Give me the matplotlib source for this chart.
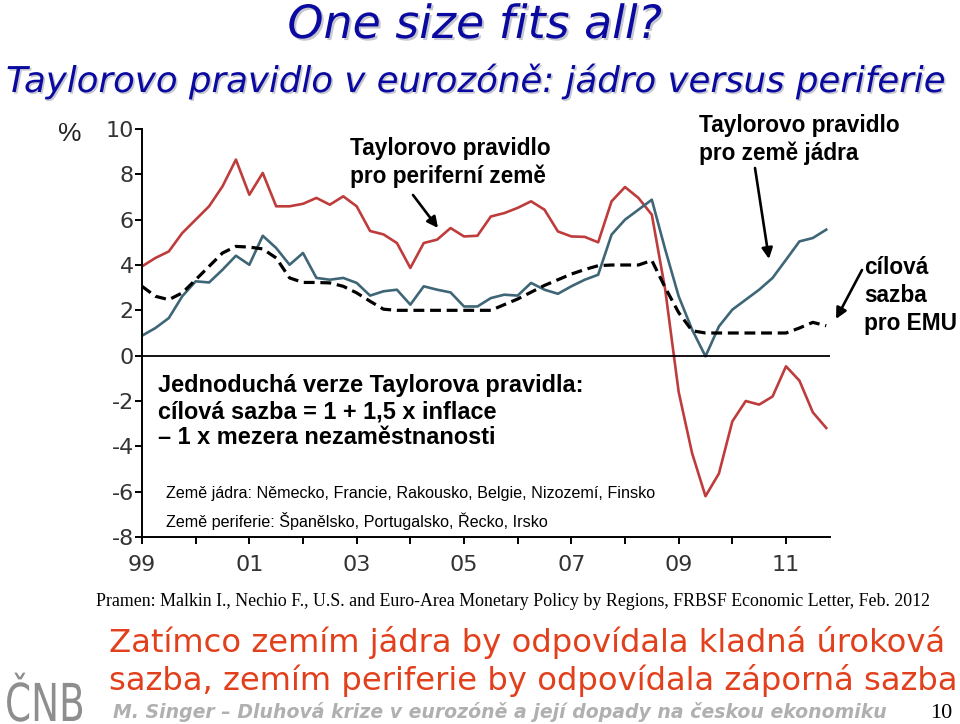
import matplotlib
matplotlib.use("Agg")
import numpy as np
import pandas as pd
import matplotlib.pyplot as plt
from matplotlib import patheffects as pe
from matplotlib.textpath import TextPath
from matplotlib.patches import PathPatch
from matplotlib.font_manager import FontProperties
from matplotlib.transforms import Affine2D

plt.rcParams["axes.unicode_minus"] = False

# quarterly data 1999Q1 - 2011Q4 (%)
quarters = pd.period_range("1999Q1", "2011Q4", freq="Q")
t = np.array([q.year + (q.quarter - 1) / 4 for q in quarters])

periphery = [3.94, 4.31, 4.60, 5.41, 6.00, 6.59, 7.47, 8.65,
             7.10, 8.06, 6.59, 6.59, 6.70, 6.96, 6.66, 7.03,
             6.59, 5.50, 5.35, 4.97, 3.87, 4.97, 5.12, 5.63,
             5.26, 5.29, 6.14, 6.29, 6.52, 6.81, 6.44, 5.48,
             5.26, 5.24, 5.00, 6.81, 7.44, 6.96, 6.22, 2.90,
             -1.60, -4.30, -6.20, -5.20, -2.90, -2.00, -2.16, -1.80,
             -0.47, -1.10, -2.50, -3.19]

core = [0.88, 1.22, 1.66, 2.62, 3.28, 3.23, 3.79, 4.41,
        4.01, 5.29, 4.75, 4.01, 4.53, 3.43, 3.35, 3.43,
        3.21, 2.65, 2.84, 2.91, 2.25, 3.06, 2.91, 2.79,
        2.17, 2.17, 2.54, 2.69, 2.65, 3.21, 2.91, 2.73,
        3.06, 3.35, 3.57, 5.34, 6.00, 6.44, 6.88, 4.68,
        2.62, 1.15, -0.03, 1.29, 2.03, 2.47, 2.91, 3.43,
        4.23, 5.04, 5.19, 5.56]

emu = [3.06, 2.62, 2.47, 2.77, 3.35, 3.94, 4.53, 4.82,
       4.79, 4.71, 4.31, 3.43, 3.23, 3.23, 3.21, 3.06,
       2.77, 2.40, 2.05, 2.00, 2.00, 2.00, 2.00, 2.00,
       2.00, 2.00, 2.00, 2.25, 2.50, 2.80, 3.10, 3.35,
       3.60, 3.80, 3.97, 4.00, 4.00, 4.00, 4.20, 3.00,
       1.90, 1.10, 1.00, 1.00, 1.00, 1.00, 1.00, 1.00,
       1.00, 1.22, 1.47, 1.32]

yticks = list(range(-8, 11, 2))
xmajor = list(range(1999, 2012))
xlabels = ["99", "", "01", "", "03", "", "05", "", "07", "", "09", "", "11"]

W, H = 960, 724
fig = plt.figure(figsize=(W / 100, H / 100), dpi=100)
fig.patch.set_facecolor("white")


def px(x, y):
    return x / W, 1 - y / H


ax = fig.add_axes([142 / W, 1 - 537 / H, (830 - 142) / W, (537 - 129) / H])
ax.plot(t, periphery, color="#be3c3c", lw=1.9)
ax.plot(t, core, color="#3f6677", lw=1.9)
ax.plot(t, emu, color="black", lw=2.3, dashes=(3.4, 1.8))
ax.axhline(0, color="black", lw=1.3)

ax.set_xlim(1999, 2011.82)
ax.set_ylim(-8, 10)
ax.set_yticks(yticks)
ax.set_xticks(xmajor)
ax.set_xticklabels(xlabels)
for s in ["top", "right"]:
    ax.spines[s].set_visible(False)
for s in ["left", "bottom"]:
    ax.spines[s].set_linewidth(1.4)
ax.tick_params(axis="both", direction="out", length=5, width=1.4,
               labelsize=16, labelcolor="#333333")
ax.tick_params(axis="y", pad=1)
ax.tick_params(axis="x", pad=8)

sans = ["Liberation Sans", "DejaVu Sans"]

# titles
x, y = px(475, 38)
fig.text(x, y, "One size fits all?", ha="center", va="baseline",
         fontsize=33, style="italic", color="#0a0aa0", family="DejaVu Sans",
         path_effects=[pe.withSimplePatchShadow(offset=(1.5, -1.5),
                                                shadow_rgbFace="#9090a0", alpha=0.5)])
x, y = px(6, 92)
fig.text(x, y, "Taylorovo pravidlo v eurozóně: jádro versus periferie",
         ha="left", va="baseline", fontsize=25.6, style="italic", color="#0a0aa0",
         family="DejaVu Sans",
         path_effects=[pe.withSimplePatchShadow(offset=(1.2, -1.2),
                                                shadow_rgbFace="#9090a0", alpha=0.5)])

x, y = px(58, 141)
fig.text(x, y, "%", ha="left", va="baseline", fontsize=19, family=sans, color="#222222")


# labels inside chart
def label(xp, yp, s, size=16.3, weight="bold"):
    x, y = px(xp, yp)
    fig.text(x, y, s, ha="left", va="baseline", fontsize=size,
             fontweight=weight, family=sans, color="black")


label(350, 155, "Taylorovo pravidlo")
label(350, 183, "pro periferní země")
label(699, 132, "Taylorovo pravidlo")
label(699, 160, "pro země jádra")
label(864, 274, "cílová")
label(864, 302, "sazba")
label(864, 330, "pro EMU")
label(158, 392, "Jednoduchá verze Taylorova pravidla:", size=16.9)
label(158, 418, "cílová sazba = 1 + 1,5 x inflace", size=16.9)
label(158, 444, "– 1 x mezera nezaměstnanosti", size=16.9)
label(166, 498, "Země jádra: Německo, Francie, Rakousko, Belgie, Nizozemí, Finsko",
      size=11.6, weight="normal")
label(166, 527, "Země periferie: Španělsko, Portugalsko, Řecko, Irsko",
      size=11.6, weight="normal")

for (x0, y0), (x1, y1) in [((413, 195), (438, 228)),
                           ((755, 168), (769, 259)),
                           ((862, 270), (836, 319))]:
    ax.annotate("", xy=px(x1, y1), xytext=px(x0, y0),
                xycoords="figure fraction", textcoords="figure fraction",
                arrowprops=dict(arrowstyle="-|>", color="black", lw=1.9,
                                mutation_scale=16, shrinkA=0, shrinkB=0),
                annotation_clip=False)

# source and bottom texts
x, y = px(96, 606)
fig.text(x, y, "Pramen: Malkin I., Nechio F., U.S. and Euro-Area Monetary Policy by "
         "Regions, FRBSF Economic Letter, Feb. 2012", ha="left", va="baseline",
         fontsize=12.9, family="Liberation Serif", color="black")

red = "#e2401c"
x, y = px(109, 652)
fig.text(x, y, "Zatímco zemím jádra by odpovídala kladná úroková", ha="left",
         va="baseline", fontsize=23.2, family="DejaVu Sans", color=red)
x, y = px(109, 690)
fig.text(x, y, "sazba, zemím periferie by odpovídala záporná sazba", ha="left",
         va="baseline", fontsize=23.2, family="DejaVu Sans", color=red)

x, y = px(113, 718)
fig.text(x, y, "M. Singer – Dluhová krize v eurozóně a její dopady na českou ekonomiku",
         ha="left", va="baseline", fontsize=13.6, family="DejaVu Sans",
         fontweight="bold", style="italic", color="#b0b0b0")
x, y = px(930, 718)
fig.text(x, y, "10", ha="left", va="baseline", fontsize=16,
         family="Liberation Serif", color="black")

# logo
tp = TextPath((0, 0), "ČNB", size=55, prop=FontProperties(family="DejaVu Sans"))
logo = PathPatch(tp, facecolor="#8e8e8e", edgecolor="none",
                 transform=Affine2D().scale(0.68, 0.95).translate(5, H - 721))
fig.add_artist(logo)

fig.savefig("out.png", dpi=100, facecolor="white")
